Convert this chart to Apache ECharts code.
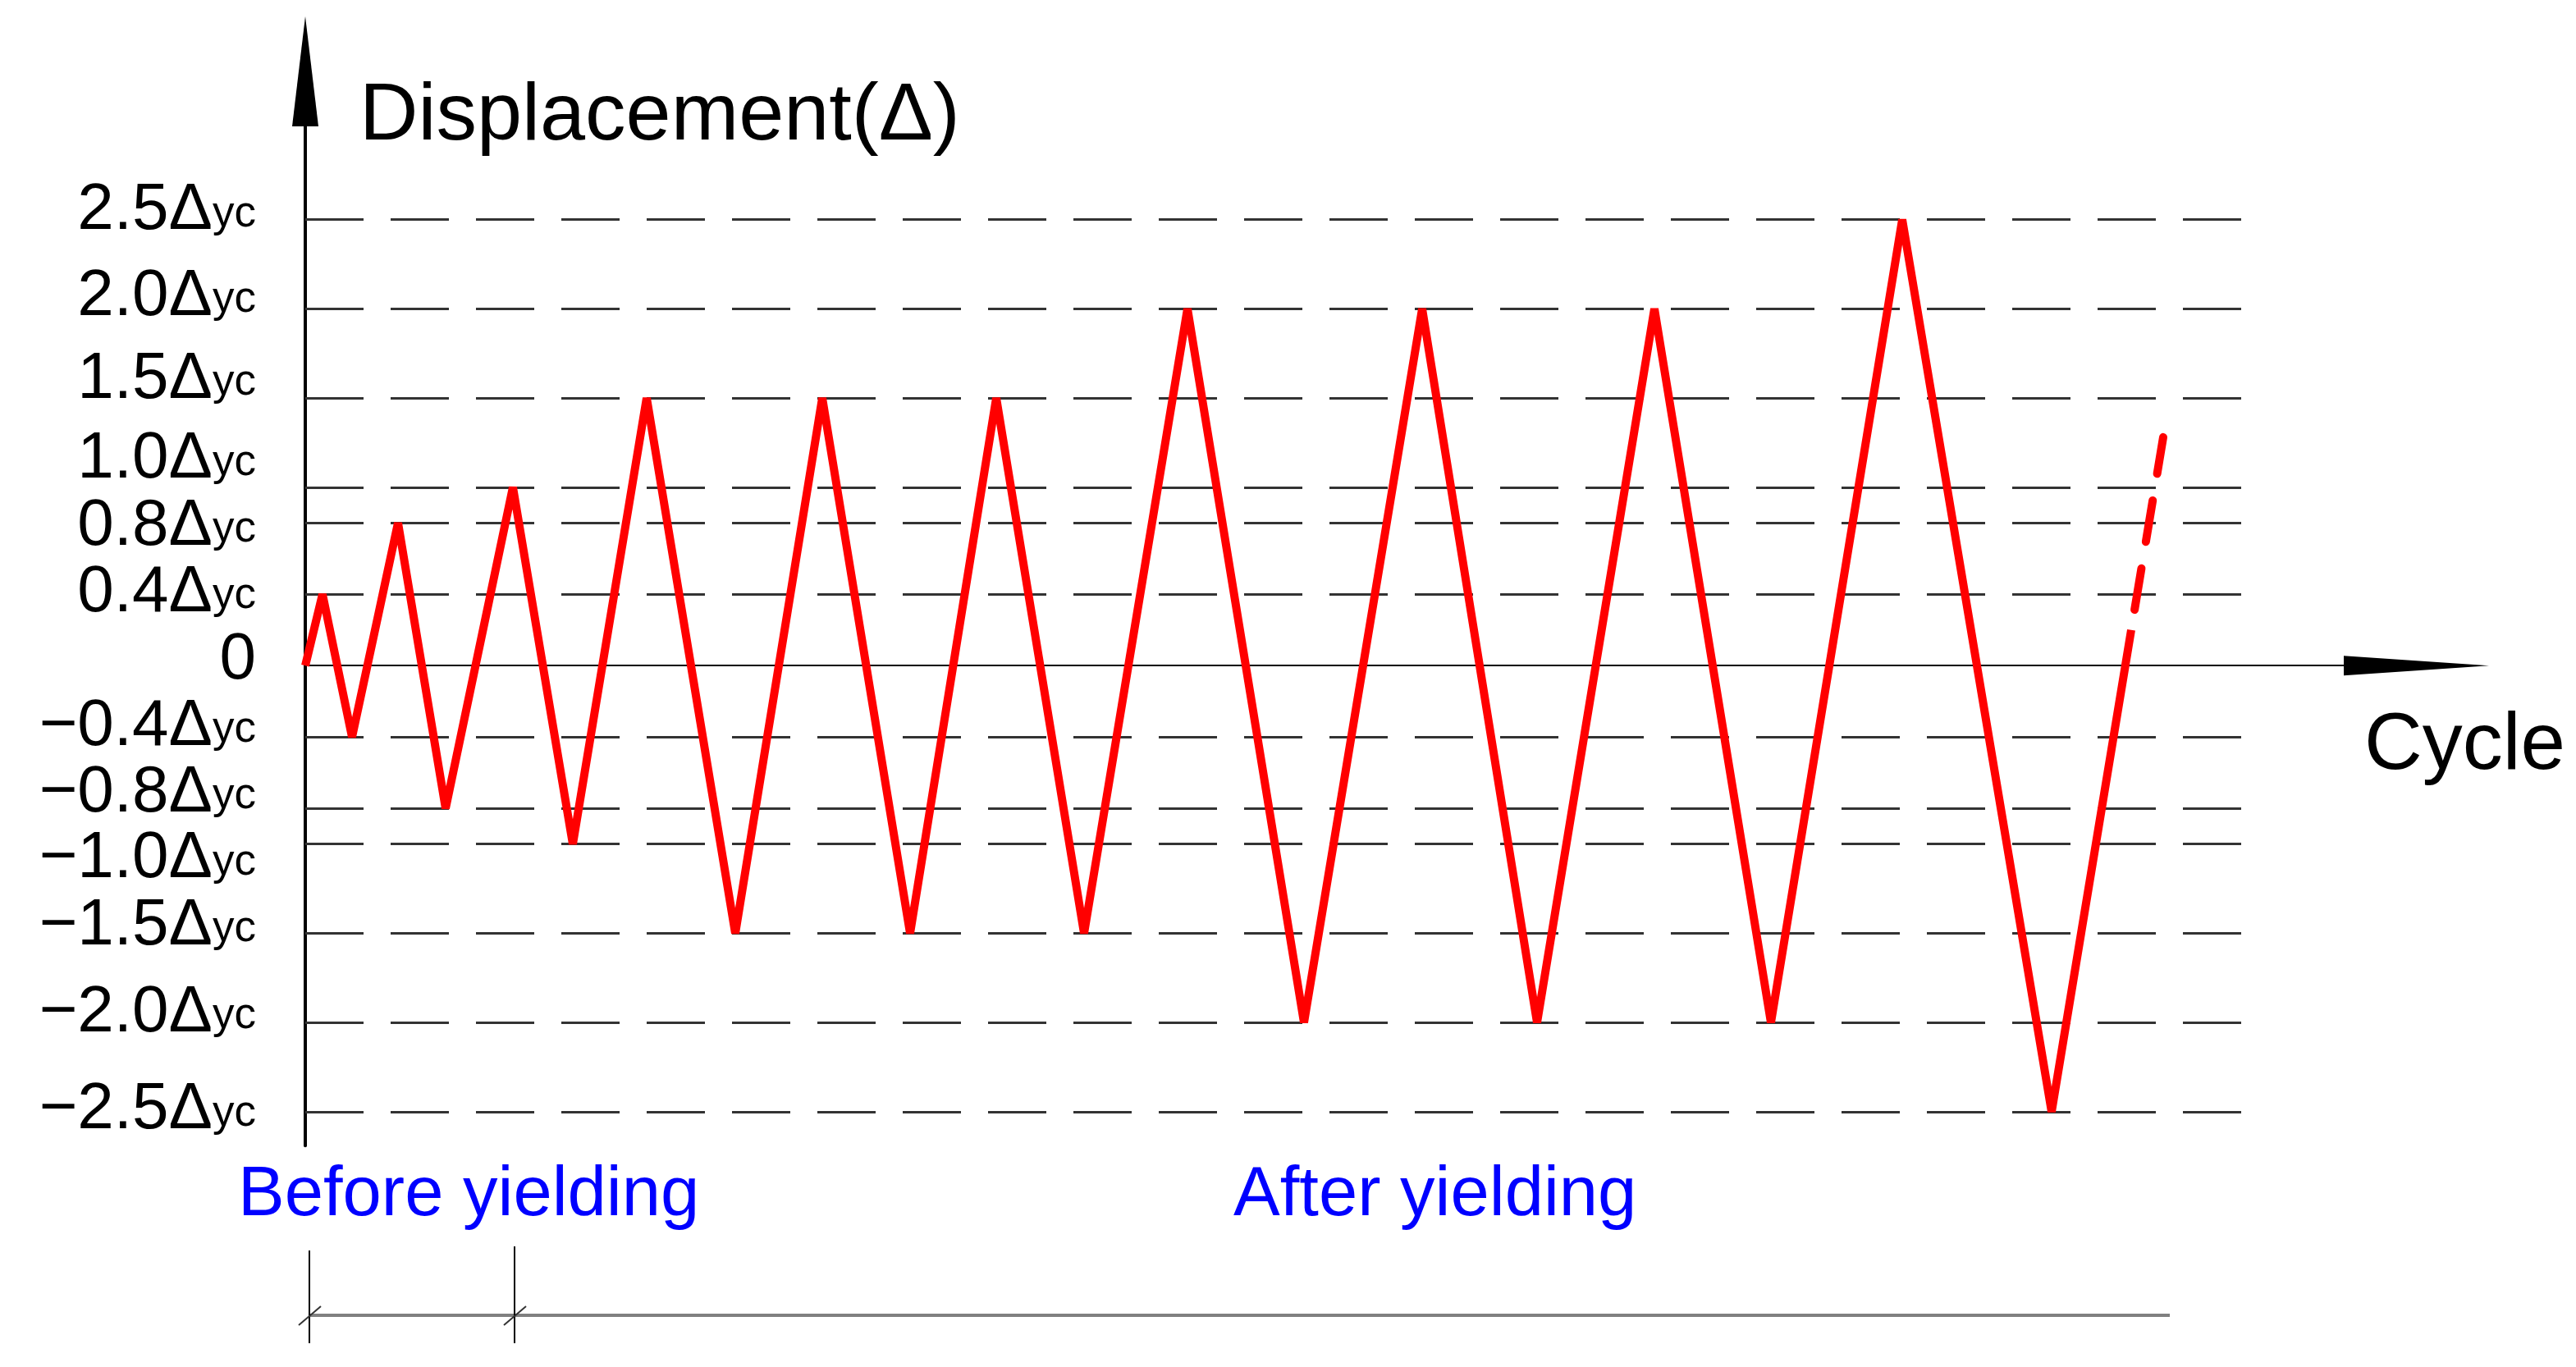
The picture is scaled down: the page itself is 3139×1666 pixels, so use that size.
<!DOCTYPE html>
<html>
<head>
<meta charset="utf-8">
<script src="https://cdn.jsdelivr.net/npm/echarts@6/dist/echarts.min.js"></script>
<style>
html,body{margin:0;padding:0;background:#ffffff;}
#chart{width:3139px;height:1666px;}
</style>
</head>
<body>
<div id="chart"></div>
<script>
// ---------------- DATA ----------------
// loading protocol: position along the cycle axis and displacement level (in Δyc)
const cycleX = [0, 0.21, 0.57, 1.13, 1.71, 2.53, 3.26, 4.16, 5.24, 6.30, 7.37, 8.42, 9.49,
                10.75, 12.17, 13.61, 15.01, 16.44, 17.86, 19.46, 21.28, 22.25];
const displacement = [0, 0.4, -0.4, 0.8, -0.8, 1.0, -1.0, 1.5, -1.5, 1.5, -1.5, 1.5, -1.5,
                      2.0, -2.0, 2.0, -2.0, 2.0, -2.0, 2.5, -2.5, 0.2];
// continuation (dashed) of the last ramp
const continuationX = [22.25, 22.64];
const continuationY = [0.2, 1.28];
// displacement levels (tick labels and reference lines)
const levelValues = [2.5, 2.0, 1.5, 1.0, 0.8, 0.4, 0, -0.4, -0.8, -1.0, -1.5, -2.0, -2.5];
const levelLabels = ['2.5', '2.0', '1.5', '1.0', '0.8', '0.4', '0', '−0.4', '−0.8', '−1.0', '−1.5', '−2.0', '−2.5'];
const levelLineEnd = 23.75;
// stage boundaries along the cycle axis and stage names
const phaseBounds = [0.05, 2.55, 22.72];
const phaseNames = ['Before yielding', 'After yielding'];
const axisTitles = ['Displacement(Δ)', 'Cycle'];

// ---------------- STYLE / LAYOUT ----------------
const FONT = '"Liberation Sans", Arial, Helvetica, sans-serif';
// vertical nudge (px) of each tick label relative to its level, as hand-placed in the reference
const labelNudge = [-16, -20, -28, -39, -1, -7, -12, -18, -24, 13, -14, -17, -7];

const rich = {
  n: {fontSize: 80, lineHeight: 64, color: '#000', fontFamily: FONT},
  s: {fontSize: 53, lineHeight: 45, color: '#000', fontFamily: FONT, verticalAlign: 'bottom'}
};

const chart = echarts.init(document.getElementById('chart'), null, {renderer: 'svg', width: 3139, height: 1666});

const option = {
  animation: false,
  backgroundColor: '#ffffff',
  textStyle: {fontFamily: FONT},
  grid: {left: 372, right: 194.5, top: 87, bottom: 269.7, containLabel: false, outerBoundsMode: 'none'},
  xAxis: {
    type: 'value', min: 0, max: 25.725,
    axisLine: {show: true, onZero: true, symbol: ['none', 'triangle'], symbolSize: [24, 177],
               lineStyle: {color: '#000', width: 2}},
    axisTick: {show: false}, axisLabel: {show: false}, splitLine: {show: false}
  },
  yAxis: {
    type: 'value', min: -2.69, max: 3.33,
    axisLine: {show: true, onZero: false, symbol: ['none', 'triangle'], symbolSize: [32, 134],
               lineStyle: {color: '#000', width: 4}},
    axisTick: {show: false},
    splitLine: {show: false},
    axisLabel: {show: false}
  },
  series: [
    {
      name: 'levels', type: 'line', data: [], z: 1, silent: true,
      markLine: {
        silent: true, symbol: ['none', 'none'], animation: false,
        label: {show: false},
        lineStyle: {color: '#333333', width: 3, type: [71, 33]},
        emphasis: {disabled: true},
        data: levelValues.filter(function (v) { return v !== 0; }).map(function (v) {
          return [{coord: [0, v]}, {coord: [levelLineEnd, v]}];
        })
      }
    },
    {
      name: 'Displacement', type: 'line', z: 5, silent: true, clip: false,
      showSymbol: false, symbol: 'none',
      data: cycleX.map(function (x, i) { return [x, displacement[i]]; }),
      lineStyle: {color: '#ff0000', width: 10}
    },
    {
      name: 'Continuation', type: 'line', z: 5, silent: true, clip: false,
      showSymbol: false, symbol: 'none',
      data: continuationX.map(function (x, i) { return [x, continuationY[i]]; }),
      lineStyle: {color: '#ff0000', width: 10, type: [51, 33], dashOffset: 59, cap: 'round'}
    }
  ]
};
chart.setOption(option);

// tick labels: placed at each level, shifted through the y axis scale by the hand-placed nudge
const unitPx = chart.convertToPixel({yAxisIndex: 0}, 0) - chart.convertToPixel({yAxisIndex: 0}, 1);
const labelAnchors = levelValues.map(function (v, i) { return v - labelNudge[i] / unitPx; });
function levelLabel(val) {
  const i = labelAnchors.findIndex(function (t) { return Math.abs(t - val) < 1e-6; });
  if (i < 0) return '';
  return Math.abs(levelValues[i]) < 1e-9 ? '{n|' + levelLabels[i] + '}' : '{n|' + levelLabels[i] + 'Δ}{s|yc}';
}

// annotations placed through the x axis scale
const px = function (v) { return chart.convertToPixel({xAxisIndex: 0}, v); };
const x0 = px(phaseBounds[0]), x1 = px(phaseBounds[1]), x2 = px(phaseBounds[2]);
const dimY = 1603;
function slash(x) {
  return {type: 'line', silent: true, shape: {x1: x - 13, y1: dimY + 12, x2: x + 14, y2: dimY - 11},
          style: {stroke: '#333', lineWidth: 2}};
}
function txt(text, x, y, size, color) {
  return {type: 'text', silent: true, x: x, y: y,
          style: {text: text, font: size + 'px ' + FONT, fill: color, align: 'left', verticalAlign: 'middle',
                  textAlign: 'left', textVerticalAlign: 'middle'}};
}
chart.setOption({
  yAxis: {
    axisLabel: {show: true, customValues: labelAnchors, margin: 60, align: 'right',
                formatter: levelLabel, rich: rich, color: '#000'}
  },
  graphic: [
    txt(axisTitles[0], 438, 135, 99, '#000'),
    txt(axisTitles[1], 2881, 903, 98, '#000'),
    txt(phaseNames[0], 290, 1451, 85, '#0000ff'),
    txt(phaseNames[1], 1503, 1451, 85, '#0000ff'),
    {type: 'line', silent: true, shape: {x1: x0, y1: dimY, x2: x2, y2: dimY},
     style: {stroke: '#808080', lineWidth: 4}},
    {type: 'line', silent: true, shape: {x1: x0, y1: 1524, x2: x0, y2: 1637},
     style: {stroke: '#000', lineWidth: 2}},
    {type: 'line', silent: true, shape: {x1: x1, y1: 1519, x2: x1, y2: 1637},
     style: {stroke: '#000', lineWidth: 2}},
    slash(x0), slash(x1)
  ]
});
</script>
</body>
</html>
